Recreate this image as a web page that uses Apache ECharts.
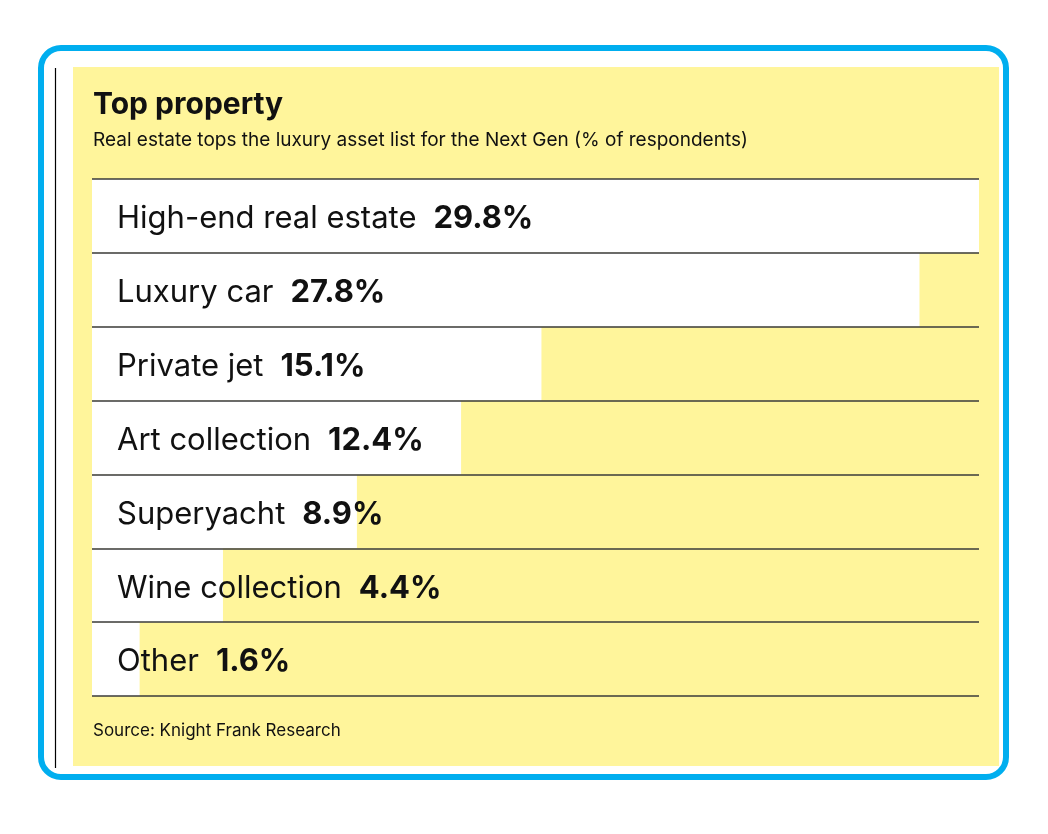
<!DOCTYPE html>
<html>
<head>
<meta charset="utf-8">
<script src="https://cdn.jsdelivr.net/npm/echarts@6/dist/echarts.min.js"></script>
<style>
html,body{margin:0;padding:0;background:#fff;}
#main{width:1048px;height:834px;}
</style>
</head>
<body>
<div id="main"></div>
<script>
const categories = ['High-end real estate', 'Luxury car', 'Private jet', 'Art collection', 'Superyacht', 'Wine collection', 'Other'];
const values = [29.8, 27.8, 15.1, 12.4, 8.9, 4.4, 1.6];
const titleText = 'Top property';
const subtitleText = 'Real estate tops the luxury asset list for the Next Gen (% of respondents)';
const sourceText = 'Source: Knight Frank Research';

const FONT = 'Inter, "Liberation Sans", Arial, sans-serif';
const chart = echarts.init(document.getElementById('main'));
chart.setOption({
  backgroundColor: '#ffffff',
  animation: false,
  textStyle: { fontFamily: FONT },
  title: [
    { text: titleText, left: 93, top: 90, padding: 0,
      textStyle: { fontFamily: FONT, fontSize: 30, fontWeight: 'bold', color: '#111', lineHeight: 30 } },
    { text: subtitleText, left: 93, top: 131, padding: 0,
      textStyle: { fontFamily: FONT, fontSize: 19, fontWeight: 'normal', color: '#111', lineHeight: 19 } },
    { text: sourceText, left: 93, top: 722, padding: 0,
      textStyle: { fontFamily: FONT, fontSize: 17, fontWeight: 'normal', color: '#111', lineHeight: 17 } }
  ],
  graphic: [
    { type: 'rect', z: -20, silent: true,
      shape: { x: 73, y: 67, width: 926, height: 699 },
      style: { fill: '#FFF59B' } },
    { type: 'line', z: -19, silent: true,
      shape: { x1: 55.5, y1: 68, x2: 55.5, y2: 768 },
      style: { stroke: '#000', lineWidth: 1.2 } },
    { type: 'rect', z: -19, silent: true,
      shape: { x: 41, y: 48, width: 965, height: 729, r: 20 },
      style: { fill: 'none', stroke: '#00AEEF', lineWidth: 6 } }
  ],
  grid: { left: 92, right: 69, top: 179, bottom: 138, containLabel: false },
  xAxis: {
    type: 'value', min: 0, max: 29.8,
    show: false
  },
  yAxis: {
    type: 'category', data: categories, inverse: true, z: 5,
    axisLine: { show: false }, axisTick: { show: false }, axisLabel: { show: false },
    splitLine: { show: true, lineStyle: { color: '#3a3a3a', width: 1.5 } }
  },
  series: [{
    type: 'bar',
    data: values,
    barWidth: '100%',
    itemStyle: { color: '#ffffff' },
    label: {
      show: true,
      position: 'insideLeft',
      distance: 25,
      offset: [0, 3],
      formatter: function (p) { return '{n|' + p.name + '}{v|' + p.value.toFixed(1) + '%}'; },
      rich: {
        n: { fontFamily: FONT, fontSize: 31, color: '#111', fontWeight: 'normal' },
        v: { fontFamily: FONT, fontSize: 31, color: '#111', fontWeight: 'bold', padding: [0, 0, 0, 17] }
      }
    }
  }]
});
</script>
</body>
</html>
